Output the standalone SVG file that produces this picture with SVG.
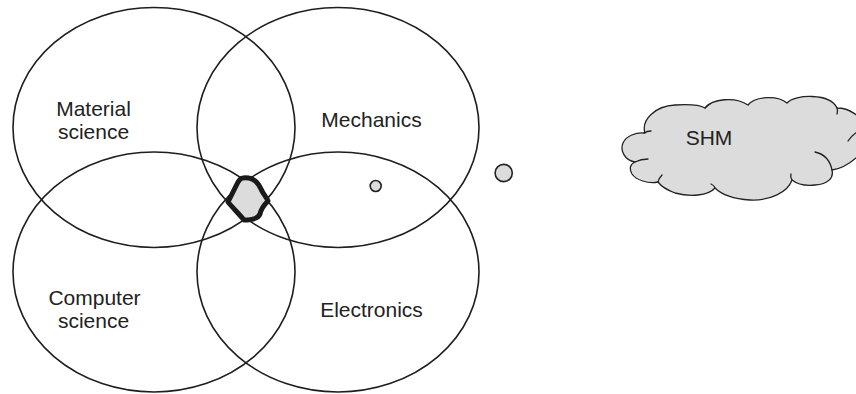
<svg xmlns="http://www.w3.org/2000/svg" width="856" height="394" viewBox="0 0 856 394">
<style>
  .ring { fill: none; stroke: #1e1e1e; stroke-width: 1.6; }
  .lbl { font-family: "Liberation Sans", Arial, sans-serif; font-size: 21px; fill: #222; text-anchor: middle; }
  .dot { fill: #dcdcdc; stroke: #222; stroke-width: 1.6; }
  .cloud { fill: #dcdcdc; stroke: #222; stroke-width: 1.3; stroke-linejoin: round; }
  .curl { fill: none; stroke: #222; stroke-width: 1.3; stroke-linecap: round; }
</style>
<rect width="856" height="394" fill="#ffffff"/>
<g id="connectors"/>
<g id="material-science">
  <ellipse class="ring" cx="154" cy="127.5" rx="141" ry="120"/>
  <text class="lbl" x="93.5" y="116">Material</text>
  <text class="lbl" x="93.5" y="139">science</text>
</g>
<g id="mechanics">
  <ellipse class="ring" cx="338" cy="127.5" rx="141" ry="120"/>
  <text class="lbl" x="371.5" y="127">Mechanics</text>
</g>
<g id="computer-science">
  <ellipse class="ring" cx="154" cy="272" rx="141" ry="120"/>
  <text class="lbl" x="94.5" y="305">Computer</text>
  <text class="lbl" x="93.5" y="328">science</text>
</g>
<g id="electronics">
  <ellipse class="ring" cx="338" cy="272" rx="141" ry="120"/>
  <text class="lbl" x="371.5" y="316.5">Electronics</text>
</g>
<g id="intersection">
  <path d="M243,178 C252,177 258,182 261,189 C263,194 267,198 268,201 C264,205 261,209 260,214 C258,219 251,220 244,220 C239,214 233,208 228,202 C231,196 234,190 237,184 C239,180 241,178 243,178 Z" fill="#dcdcdc" stroke="#1a1a1a" stroke-width="5" stroke-linejoin="round"/>
</g>
<g id="small-dot">
  <circle class="dot" cx="375.7" cy="186" r="5.5"/>
</g>
<g id="large-dot">
  <circle class="dot" cx="503.7" cy="173" r="8.6"/>
</g>
<g id="shm">
  <path class="cloud" d="M635,162 C624,160 620,150 623,143 C626,136 636,132 645,133 C641,120 655,106 675,105 C690,104 700,105 705,108 C712,99 735,96 748,105 C755,96 778,95 787,103 C795,94 830,93 837,108 C848,108 862,115 866,130 C868,145 866,155 856,158 C848,165 840,169 832,170 C834,178 828,184 815,185 C806,186 797,184 792,180 C788,192 770,201 750,200 C735,199 722,195 715,188 C708,196 690,197 675,193 C667,190 661,186 658,182 C648,184 636,180 632,174 C629,169 630,164 635,162 Z"/>
  <path class="curl" d="M644,133 q3,-2 7,-2"/>
  <path class="curl" d="M635,162 Q641,159 648,159"/>
  <path class="curl" d="M705,108 q2,-3 5,-4"/>
  <path class="curl" d="M837,108 q1,3 0,6"/>
  <path class="curl" d="M848,141 Q851,136 857,132"/>
  <path class="curl" d="M815,152 C824,154 830,160 832,170"/>
  <path class="curl" d="M792,180 q-2,-3 -1,-6"/>
  <path class="curl" d="M715,188 q-1,-3 -4,-4"/>
  <path class="curl" d="M658,182 q1,-4 4,-7"/>
  <text class="lbl" x="709" y="145">SHM</text>
</g>
</svg>
